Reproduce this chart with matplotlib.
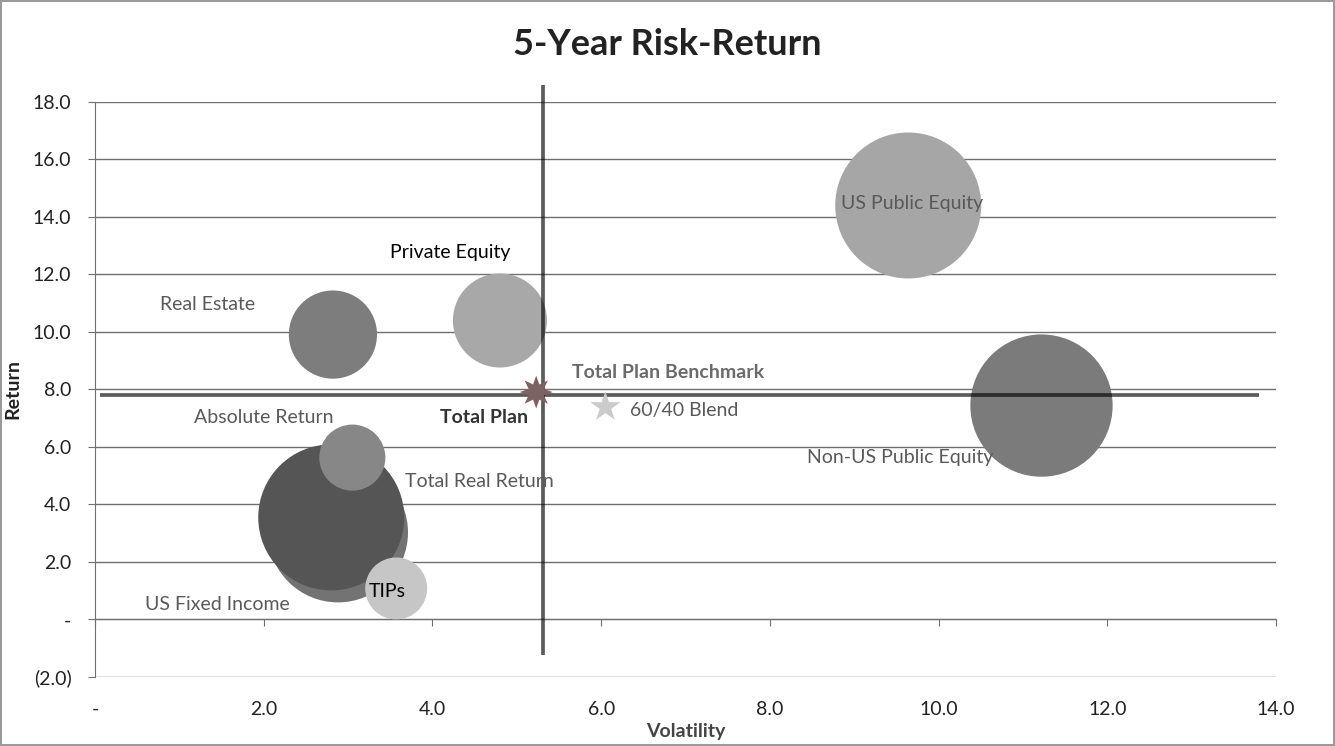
import matplotlib.pyplot as plt
from matplotlib.ticker import FuncFormatter

plt.rcParams['font.family'] = ['Lato', 'DejaVu Sans']

# bubble series: volatility, return, size (relative weight)
names = ['US Fixed Income', 'Absolute Return', 'Total Real Return', 'TIPs',
         'Real Estate', 'Private Equity', 'US Public Equity', 'Non-US Public Equity']
volatility = [2.88, 2.80, 3.05, 3.57, 2.82, 4.80, 9.64, 11.22]
returns = [3.03, 3.55, 5.63, 1.08, 9.91, 10.40, 14.40, 7.44]
sizes = [18.4, 20.0, 4.1, 3.6, 7.3, 8.3, 20.0, 19.0]
colors = ['#737373', '#555555', '#878787', '#c6c6c6',
          '#7d7d7d', '#a8a8a8', '#a6a6a6', '#7b7b7b']

# star points
bench_vol, bench_ret = 5.23, 7.91      # Total Plan Benchmark
blend_vol, blend_ret = 6.05, 7.39      # 60/40 Blend

# Total Plan cross-hair
plan_vol, plan_ret = 5.31, 7.80
plan_vol_span = [0.06, 13.8]
plan_ret_span = [-1.25, 18.6]

xticks = [0, 2, 4, 6, 8, 10, 12, 14]
yticks = [-2, 0, 2, 4, 6, 8, 10, 12, 14, 16, 18]


def acct(v, pos=None):
    if abs(v) < 1e-9:
        return '-'
    if v < 0:
        return '(%.1f)' % -v
    return '%.1f' % v


fig = plt.figure(figsize=(13.35, 7.46), dpi=100)
fig.patch.set_edgecolor('#9a9a9a')
fig.patch.set_linewidth(1.5)
ax = fig.add_axes([0.0712, 0.0925, 0.8846, 0.7708])

ax.set_xlim(0, 14)
ax.set_ylim(-2, 18)

# bubbles: area proportional to size (like excel)
scale = (2 * 73 * 0.72) ** 2 / 20.0
ax.scatter(volatility, returns, s=[w * scale for w in sizes], c=colors,
           edgecolors='none', zorder=3)

# cross-hair through total plan
ax.hlines(plan_ret, plan_vol_span[0], plan_vol_span[1], color='black', alpha=0.64,
          linewidth=2.7, zorder=4)
ax.vlines(plan_vol, plan_ret_span[0], plan_ret_span[1], color='black', alpha=0.64,
          linewidth=2.7, zorder=4, clip_on=False)

ax.scatter([bench_vol], [bench_ret], marker=(8, 1, 0), s=560, c='#7d6262',
           edgecolors='none', zorder=5)
ax.scatter([blend_vol], [blend_ret], marker='*', s=520, c='#cbcbcb',
           edgecolors='none', zorder=5)

# labels
fs = 14
lab = dict(fontsize=fs, color='#595959', ha='center', va='center', zorder=6)
ax.text(9.68, 14.47, 'US Public Equity', **lab)
ax.text(9.54, 5.63, 'Non-US Public Equity', **lab)
ax.text(1.33, 10.96, 'Real Estate', **lab)
ax.text(2.0, 7.03, 'Absolute Return', **lab)
ax.text(4.56, 4.80, 'Total Real Return', **lab)
ax.text(1.45, 0.52, 'US Fixed Income', **lab)
ax.text(6.34, 7.26, '60/40 Blend', fontsize=fs, color='#595959', ha='left',
        va='center', zorder=6)
ax.text(6.79, 8.59, 'Total Plan Benchmark', fontsize=fs, color='#6a6a6a',
        fontweight='bold', ha='center', va='center', zorder=6)
ax.text(4.61, 7.03, 'Total Plan', fontsize=fs, color='#333333',
        fontweight='bold', ha='center', va='center', zorder=6)
ax.text(4.21, 12.77, 'Private Equity', fontsize=fs, color='black',
        ha='center', va='center', zorder=6)
ax.text(3.46, 0.97, 'TIPs', fontsize=fs, color='black',
        ha='center', va='center', zorder=6)

# axes styling
ax.set_yticks(yticks)
ax.yaxis.set_major_formatter(FuncFormatter(acct))
ax.grid(axis='y', color='#707070', linewidth=1)
ax.set_axisbelow(True)
for s in ['top', 'right']:
    ax.spines[s].set_visible(False)
ax.spines['left'].set_color('#707070')
ax.spines['bottom'].set_position(('data', 0))
ax.spines['bottom'].set_color('#707070')
ax.set_xticks(xticks)
ax.tick_params(axis='x', direction='out', length=5, color='#707070',
               labelbottom=False)
ax.tick_params(axis='y', direction='out', length=5, color='#707070',
               labelsize=14, labelcolor='#222222', pad=12)

sec = ax.secondary_xaxis('bottom')
sec.set_xticks(xticks)
sec.xaxis.set_major_formatter(FuncFormatter(acct))
sec.tick_params(length=0, pad=17, labelsize=14, labelcolor='#222222')
sec.spines['bottom'].set_visible(False)
sec.set_xlabel('Volatility', fontsize=14, fontweight='bold', color='#444444',
               labelpad=4)

ax.set_ylabel('Return', fontsize=14, fontweight='bold', color='#222222',
              labelpad=8)
fig.text(0.5, 0.94, '5-Year Risk-Return', fontsize=26, fontweight='bold',
         color='#222222', ha='center', va='center')

fig.savefig('out.png', dpi=100, edgecolor=fig.get_edgecolor())
